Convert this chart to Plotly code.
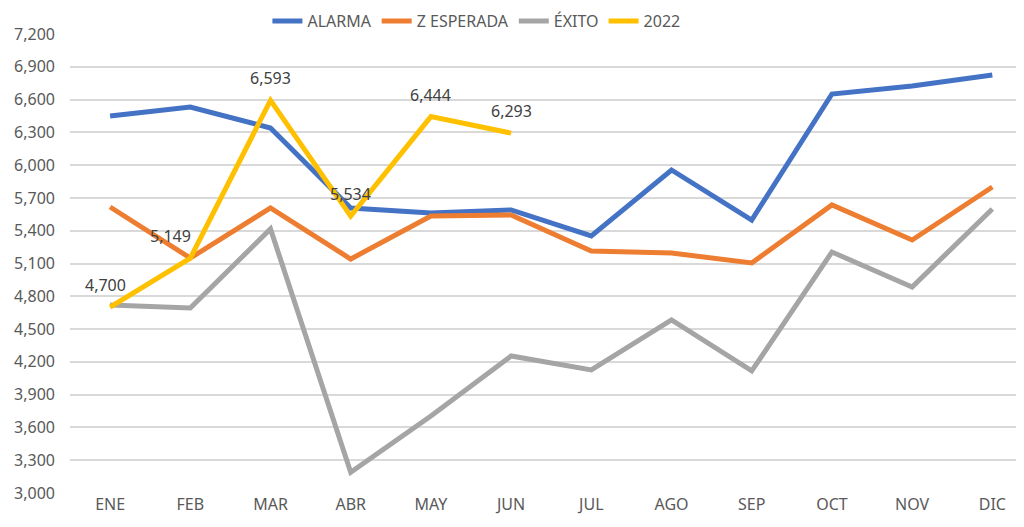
import plotly.graph_objects as go

months = ["ENE", "FEB", "MAR", "ABR", "MAY", "JUN", "JUL", "AGO", "SEP", "OCT", "NOV", "DIC"]
alarma = [6450, 6532, 6340, 5608, 5562, 5590, 5352, 5956, 5498, 6651, 6724, 6825]
z_esperada = [5617, 5150, 5608, 5141, 5535, 5544, 5215, 5196, 5105, 5636, 5315, 5800]
exito = [4721, 4693, 5416, 3190, 3705, 4254, 4126, 4583, 4117, 5205, 4885, 5599]
y2022 = [4700, 5149, 6593, 5534, 6444, 6293]
label_xshift = [-5, -20, 0, 0, 0, 0]

y_ticks = list(range(3000, 7201, 300))

fig = go.Figure()
series = [("ALARMA", alarma, "#4472C4"), ("Z ESPERADA", z_esperada, "#ED7D31"),
          ("ÉXITO", exito, "#A5A5A5"), ("2022", y2022, "#FFC000")]
for name, vals, color in series:
    fig.add_trace(go.Scatter(x=months[:len(vals)], y=vals, mode="lines", name=name,
                             line=dict(color=color, width=5)))

for m, v, xs in zip(months, y2022, label_xshift):
    fig.add_annotation(x=m, y=v, text=f"{v:,}", showarrow=False, yshift=22, xshift=xs,
                       font=dict(size=16, color="#404040", family="Noto Sans"))

fig.update_layout(
    width=1016, height=519,
    margin=dict(l=62, r=0, t=26, b=34, autoexpand=False),
    paper_bgcolor="white", plot_bgcolor="white",
    font=dict(family="Noto Sans", size=16, color="#595959"),
    legend=dict(orientation="h", x=0.426, xanchor="center", y=1.0653, yanchor="top",
                font=dict(size=16, color="#595959"), itemwidth=30, tracegroupgap=0,
                borderwidth=0),
    showlegend=True,
)
fig.update_xaxes(type="category", categoryorder="array", categoryarray=months,
                 range=[-0.5, 11.395], showgrid=False, showline=False, ticks="",
                 tickfont=dict(size=16, color="#595959"))
fig.update_yaxes(range=[3000, 7200], tickvals=y_ticks, tickformat=",d",
                 showgrid=True, gridcolor="#D9D9D9", gridwidth=1.5, zeroline=False,
                 showline=False, ticks="", ticklabelstandoff=14,
                 tickfont=dict(size=16, color="#595959"))

fig.write_html("out.html")
